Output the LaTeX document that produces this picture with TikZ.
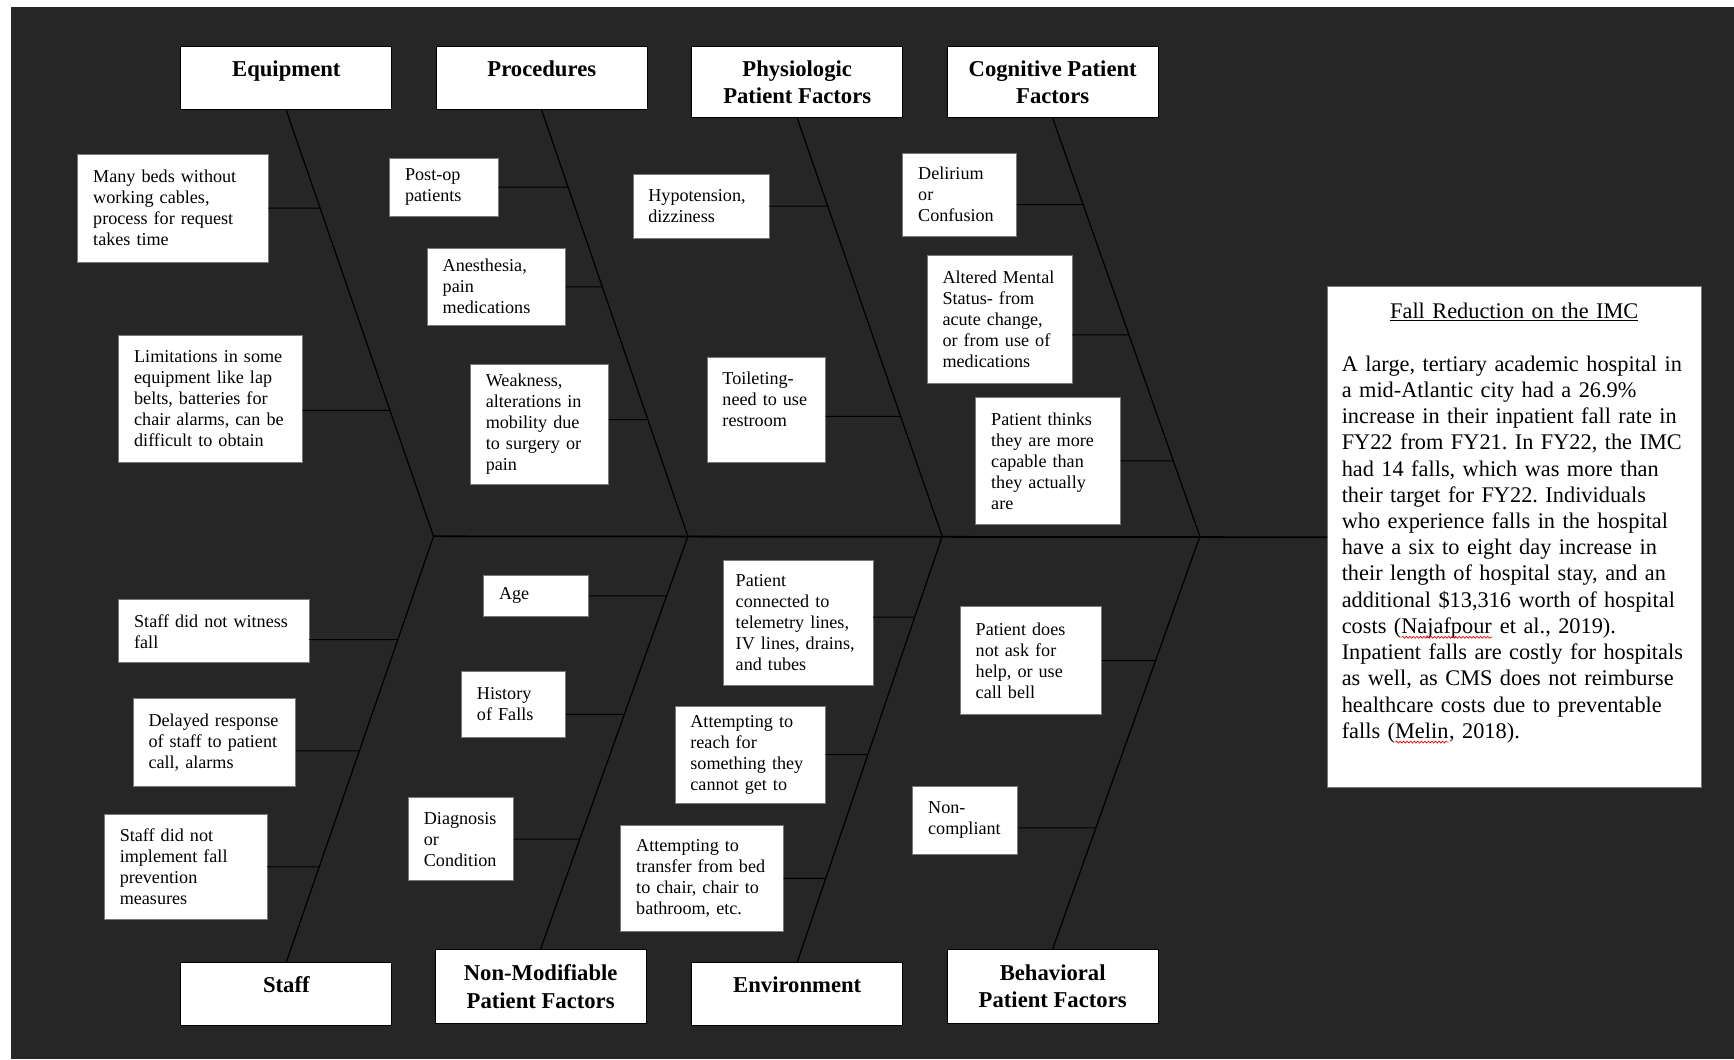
\documentclass[tikz,border=0pt]{standalone}
\usepackage{fontspec}
\setmainfont{Liberation Serif}
\usepackage{tikz}
\usetikzlibrary{decorations.pathmorphing}
\definecolor{boardgrey}{RGB}{38,38,38}
\definecolor{rimgrey}{RGB}{120,120,120}
\hyphenpenalty=10000
\exhyphenpenalty=10000
\frenchspacing
\newsavebox{\spellbox}
\newcommand{\spellwave}[1]{\sbox{\spellbox}{#1}\rlap{\usebox{\spellbox}}%
  \tikz[baseline=0pt]{\draw[red, line width=0.6pt, decorate,
    decoration={snake, amplitude=0.9pt, segment length=3.2pt}] (0pt,-3.5pt) -- (\wd\spellbox,-3.5pt);}}

\begin{document}
\begin{tikzpicture}[x=1pt, y=-1pt,
  hdr/.style={draw=black, fill=white, line width=0.8pt, anchor=north west, align=center,
    minimum width=191pt, inner sep=0pt, font=\fontsize{20.5pt}{25pt}\selectfont\bfseries},
  cause/.style={draw=rimgrey, fill=white, line width=0.6pt, anchor=north west, align=left,
    inner xsep=14pt, inner ysep=0pt, font=\fontsize{16.4pt}{19pt}\selectfont},
  bone/.style={line width=1.1pt},
  twig/.style={line width=0.9pt}]
  \fill[white] (0,0) rectangle (1568,958);
  \fill[boardgrey] (10,6) rectangle (1568,958);

  % category boxes
  \node[hdr, minimum height=57pt] (eq) at (163,42) {Equipment\\[-8pt]\mbox{}};
  \node[hdr, minimum height=57pt] (proc) at (394,42) {Procedures\\[-8pt]\mbox{}};
  \node[hdr, minimum height=64pt] (phys) at (625,42) {Physiologic\\Patient Factors};
  \node[hdr, minimum height=64pt] (cog) at (856,42) {Cognitive Patient\\Factors};
  \node[hdr, minimum height=57pt] (staff) at (163,870) {Staff\\[-8pt]\mbox{}};
  \node[hdr, minimum height=67pt] (nonmod) at (393,858) {Non-Modifiable\\Patient Factors};
  \node[hdr, minimum height=57pt] (env) at (625,870) {Environment\\[-8pt]\mbox{}};
  \node[hdr, minimum height=67pt] (behav) at (856,858) {Behavioral\\Patient Factors};

  % problem statement
  \node[draw=rimgrey, fill=white, line width=0.6pt, anchor=north west, align=left,
    text width=312pt, inner xsep=13pt, inner ysep=0pt, minimum height=453pt,
    font=\fontsize{20.2pt}{23.7pt}\selectfont] (goal) at (1200,259)
    {\makebox[312pt][c]{\underline{Fall Reduction on the IMC}}\\
     \mbox{}\\
     A large, tertiary academic hospital in\\
     a mid-Atlantic city had a 26.9\%\\
     increase in their inpatient fall rate in\\
     FY22 from FY21. In FY22, the IMC\\
     had 14 falls, which was more than\\
     their target for FY22. Individuals\\
     who experience falls in the hospital\\
     have a six to eight day increase in\\
     their length of hospital stay, and an\\
     additional \$13,316 worth of hospital\\
     costs (\spellwave{Najafpour} et al., 2019).\\
     Inpatient falls are costly for hospitals\\
     as well, as CMS does not reimburse\\
     healthcare costs due to preventable\\
     falls (\spellwave{Melin}, 2018).\\[6pt]
     \mbox{}};

  % spine and bones
  \coordinate (v1) at (392,485);
  \coordinate (v2) at (622,485);
  \coordinate (v3) at (852,485);
  \coordinate (v4) at (1085,485);
  \draw[line width=1.6pt] (v1) -- (goal.west);
  \foreach \h/\v in {eq/v1, proc/v2, phys/v3, cog/v4}
    \draw[bone] (\h.south) -- (\v);
  \foreach \h/\v in {staff/v1, nonmod/v2, env/v3, behav/v4}
    \draw[bone] (\h.north) -- (\v);

  % causes, upper half
  \node[cause, text width=144pt, minimum height=98pt] (c1) at (70,139)
    {Many beds without\\working cables,\\process for request\\takes time};
  \node[cause, text width=138pt, minimum height=115pt] (c2) at (107,303)
    {Limitations in some\\equipment like lap\\belts, batteries for\\chair alarms, can be\\difficult to obtain};
  \node[cause, text width=70pt, minimum height=52pt] (p1) at (352,143) {Post-op\\patients};
  \node[cause, text width=97pt, minimum height=70pt] (p2) at (386,224) {Anesthesia,\\pain\\medications};
  \node[cause, text width=97pt, minimum height=109pt] (p3) at (425,329)
    {Weakness,\\alterations in\\mobility due\\to surgery or\\pain};
  \node[cause, text width=95pt, minimum height=58pt] (h1) at (572,157) {Hypotension,\\dizziness};
  \node[cause, text width=79pt, minimum height=95pt] (h2) at (639,323) {Toileting-\\need to use\\restroom\\\mbox{}};
  \node[cause, text width=75pt, minimum height=75pt] (g1) at (816,138) {Delirium\\or\\Confusion};
  \node[cause, text width=103pt, minimum height=115pt] (g2) at (838,231)
    {Altered Mental\\Status- from\\acute change,\\or from use of\\medications};
  \node[cause, text width=103pt, minimum height=115pt] (g3) at (882,359)
    {Patient thinks\\they are more\\capable than\\they actually\\are};

  % causes, lower half
  \node[cause, text width=144pt, minimum height=57pt] (s1) at (107,542) {Staff did not witness\\fall};
  \node[cause, text width=119pt, minimum height=80pt] (s2) at (120,631)
    {Delayed response\\of staff to patient\\call, alarms};
  \node[cause, text width=119pt, minimum height=95pt] (s3) at (94,736)
    {Staff did not\\implement fall\\prevention\\measures};
  \node[cause, text width=67pt, minimum height=37pt] (n1) at (437,520) {Age};
  \node[cause, text width=66pt, minimum height=59pt] (n2) at (417,607) {History\\of Falls};
  \node[cause, text width=67pt, minimum height=75pt] (n3) at (369,721) {Diagnosis\\or\\Condition};
  \node[cause, text width=113pt, inner xsep=11pt, minimum height=113pt] (e1) at (654,506)
    {Patient\\connected to\\telemetry lines,\\IV lines, drains,\\and tubes};
  \node[cause, text width=108pt, minimum height=88pt] (e2) at (610,638)
    {Attempting to\\reach for\\something they\\cannot get to};
  \node[cause, text width=119pt, minimum height=96pt] (e3) at (561,746)
    {Attempting to\\transfer from bed\\to chair, chair to\\bathroom, etc.};
  \node[cause, text width=100pt, minimum height=98pt] (b1) at (868,548)
    {Patient does\\not ask for\\help, or use\\call bell};
  \node[cause, text width=67pt, minimum height=61pt] (b2) at (825,711) {Non-\\compliant};

  % twigs to the bones
  \draw[twig] (c1.east) -- (intersection of eq.south--v1 and c1.west--c1.east);
  \draw[twig] (c2.-7) -- (intersection of eq.south--v1 and c2.187--c2.-7);
  \draw[twig] (p1.east) -- (intersection of proc.south--v2 and p1.west--p1.east);
  \draw[twig] (p2.east) -- (intersection of proc.south--v2 and p2.west--p2.east);
  \draw[twig] (p3.4) -- (intersection of proc.south--v2 and p3.176--p3.4);
  \draw[twig] (h1.east) -- (intersection of phys.south--v3 and h1.west--h1.east);
  \draw[twig] (h2.-6) -- (intersection of phys.south--v3 and h2.186--h2.-6);
  \draw[twig] (g1.-10) -- (intersection of cog.south--v4 and g1.190--g1.-10);
  \draw[twig] (g2.-12) -- (intersection of cog.south--v4 and g2.192--g2.-12);
  \draw[twig] (g3.east) -- (intersection of cog.south--v4 and g3.west--g3.east);
  \draw[twig] (s1.-5) -- (intersection of staff.north--v1 and s1.185--s1.-5);
  \draw[twig] (s2.-6) -- (intersection of staff.north--v1 and s2.186--s2.-6);
  \draw[twig] (s3.east) -- (intersection of staff.north--v1 and s3.west--s3.east);
  \draw[twig] (n1.east) -- (intersection of nonmod.north--v2 and n1.west--n1.east);
  \draw[twig] (n2.-11) -- (intersection of nonmod.north--v2 and n2.191--n2.-11);
  \draw[twig] (n3.east) -- (intersection of nonmod.north--v2 and n3.west--n3.east);
  \draw[twig] (e1.4) -- (intersection of env.north--v3 and e1.176--e1.4);
  \draw[twig] (e2.east) -- (intersection of env.north--v3 and e2.west--e2.east);
  \draw[twig] (e3.east) -- (intersection of env.north--v3 and e3.west--e3.east);
  \draw[twig] (b1.east) -- (intersection of behav.north--v4 and b1.west--b1.east);
  \draw[twig] (b2.-8) -- (intersection of behav.north--v4 and b2.188--b2.-8);
\end{tikzpicture}
\end{document}
